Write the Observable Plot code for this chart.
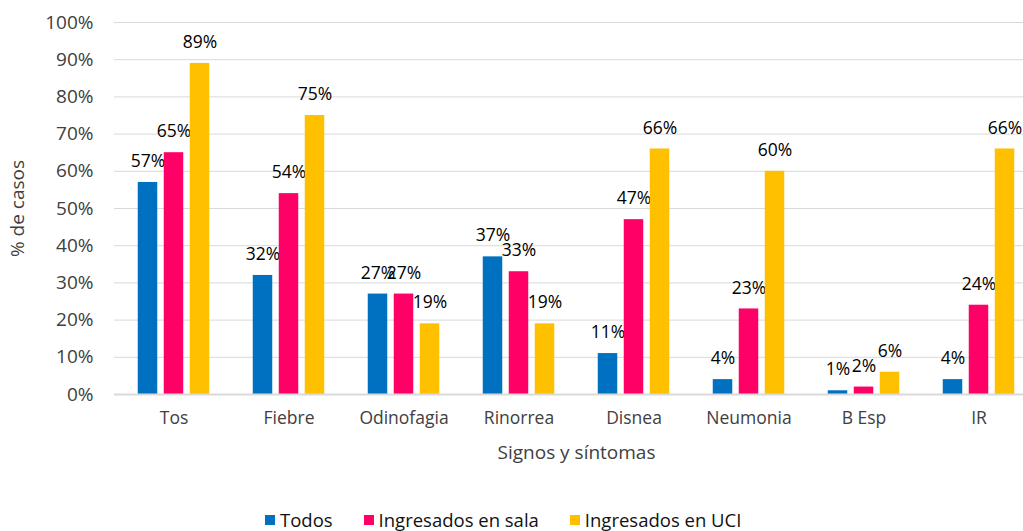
<!DOCTYPE html>
<html><head><meta charset="utf-8">
<script src="https://cdn.jsdelivr.net/npm/d3@7"></script>
<script src="https://cdn.jsdelivr.net/npm/@observablehq/plot@0.6"></script>
<style>
html,body{margin:0;padding:0;background:#fff;overflow:hidden;width:1023px;height:531px;}
body{font-family:"Open Sans",sans-serif;}
#chart{width:1023px;height:470px;overflow:hidden;}
#chart svg{max-width:none !important;}
g[aria-label="x-axis label"] text, g[aria-label="y-axis label"] text{font-size:19px;fill:#404040;}
g[aria-label="y-axis tick label"]{font-size:19px;fill:#404040;}
g[aria-label="x-axis tick label"]{font-size:17.5px;fill:#404040;}
#legend{display:flex;align-items:center;padding-left:265px;margin-top:37px;font-size:18.5px;color:#111;}
#legend .it{display:flex;align-items:center;margin-right:31px;}
#legend .sw{width:10px;height:10px;margin-right:5px;}
</style></head><body>
<div id="chart"></div>
<div id="legend"></div>
<script>
const categories = ["Tos","Fiebre","Odinofagia","Rinorrea","Disnea","Neumonia","B Esp","IR"];
const seriesNames = ["Todos","Ingresados en sala","Ingresados en UCI"];
const todos = [57,32,27,37,11,4,1,4];
const sala = [65,54,27,33,47,23,2,24];
const uci = [89,75,19,19,66,60,6,66];
const colors = ["#0070C0","#FF0066","#FFC000"];
const yTicks = [0,10,20,30,40,50,60,70,80,90,100];

const seriesValues = [todos, sala, uci];
const bw = 924/8;
const barW = 20, step = 26;
const marks = [
  Plot.ruleY(yTicks.filter(d=>d>0), {stroke:"#d9d9d9", strokeWidth:1})
];
seriesValues.forEach((vals, i) => {
  const rows = categories.map((c, j) => ({cat:c, value:vals[j], series:seriesNames[i]}));
  const off = (i-1)*step;
  const left = bw/2 + off - barW/2;
  marks.push(Plot.barY(rows, {x:"cat", y:"value", fill:colors[i], insetLeft:left, insetRight:bw-left-barW}));
  marks.push(Plot.text(rows, {x:"cat", y:"value", text:d=>d.value+"%", dx:off, dy:-21, fontSize:17.5, fill:"#000"}));
});
marks.push(Plot.ruleY([0], {stroke:"#d9d9d9", strokeWidth:2}));

const chart = Plot.plot({
  width:1038, height:470,
  marginLeft:114, marginRight:0, marginTop:22, marginBottom:76,
  style:{fontFamily:"Open Sans, sans-serif", background:"#fff", maxWidth:"none"},
  x:{domain:categories, padding:0, label:"Signos y síntomas", labelAnchor:"center", labelOffset:64, tickSize:0, tickPadding:17, labelArrow:"none"},
  y:{domain:[0,100], ticks:yTicks, tickFormat:d=>d+"%", tickSize:0, tickPadding:21, label:"% de casos", labelAnchor:"center", labelOffset:104, labelArrow:"none"},
  marks
});
chart.querySelectorAll('g[aria-label$="axis label"] text').forEach(t=>{
  t.textContent = t.textContent.replace(/[↑→←↓]/g,"").trim();
});
document.getElementById("chart").appendChild(chart);

const lg = document.getElementById("legend");
seriesNames.forEach((n,i)=>{
  const it = document.createElement("div"); it.className="it";
  const sw = document.createElement("div"); sw.className="sw"; sw.style.background=colors[i];
  const t = document.createElement("span"); t.textContent=n;
  it.appendChild(sw); it.appendChild(t); lg.appendChild(it);
});
</script>
</body></html>
